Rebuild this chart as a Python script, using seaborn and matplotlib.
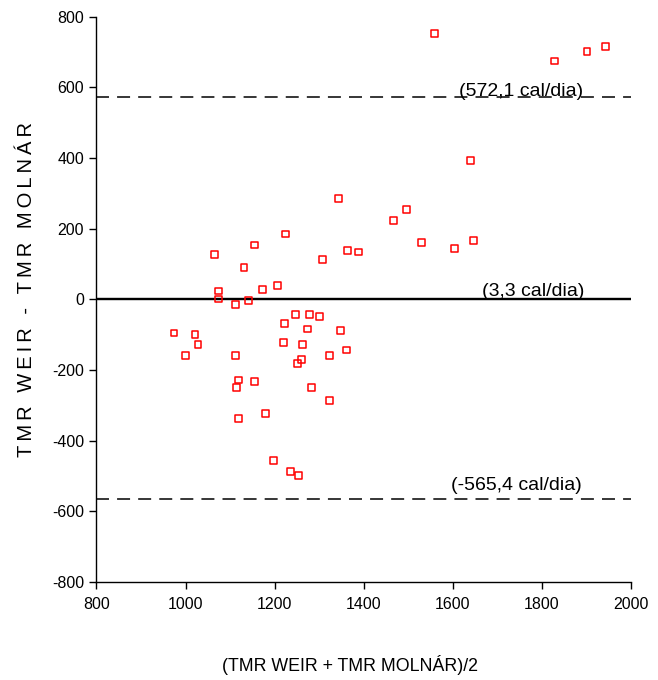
import matplotlib
matplotlib.use("Agg")
import matplotlib.pyplot as plt
from matplotlib import font_manager as fm
import seaborn as sns
import pandas as pd

# Data (Bland-Altman plot)
mean_vals = [1558, 1828, 1901, 1942, 1639, 1496, 1467, 1529, 1603, 1647,
             1343, 1225, 1154, 1065, 1131, 1363, 1389, 1307, 1074, 1172,
             1206, 1074, 1112, 1141, 1247, 1279, 1301, 1223, 1274, 1347,
             974, 1021, 1028, 1219, 1263, 999, 1112, 1324, 1361, 1260,
             1251, 1118, 1115, 1154, 1282, 1324, 1118, 1179, 1198, 1235, 1254]
diff_vals = [753, 675, 701, 717, 393, 255, 223, 160, 143, 166,
             286, 185, 154, 128, 91, 138, 134, 112, 24, 28,
             39, 1, -15, -4, -42, -42, -48, -68, -84, -89,
             -95, -100, -127, -122, -127, -159, -159, -159, -143, -169,
             -181, -228, -250, -233, -250, -286, -336, -323, -455, -487, -498]
bias = 3.3
upper_loa = 572.1
lower_loa = -565.4
line_labels = ["(572,1 cal/dia)", "(3,3 cal/dia)", "(-565,4 cal/dia)"]
x_ticks = [800, 1000, 1200, 1400, 1600, 1800, 2000]
y_ticks = [-800, -600, -400, -200, 0, 200, 400, 600, 800]
x_label = "(TMR WEIR + TMR MOLNÁR)/2"
y_label = "TMR WEIR - TMR MOLNÁR"

sns.set_theme(style="white")
names = {f.name for f in fm.fontManager.ttflist}
has_narrow = "Liberation Sans Narrow" in names
if has_narrow:
    fam = ["Liberation Sans Narrow", "Liberation Sans", "DejaVu Sans"]
    tick_fs, note_fs, xlab_fs = 12.5, 15.5, 16
else:
    fam = ["Liberation Sans", "DejaVu Sans"]
    tick_fs, note_fs, xlab_fs = 11.5, 14, 12.8
plt.rcParams["font.family"] = fam
plt.rcParams["axes.unicode_minus"] = False
for k in ["text.color", "axes.labelcolor", "xtick.color", "ytick.color"]:
    plt.rcParams[k] = "black"

df = pd.DataFrame({"mean": mean_vals, "diff": diff_vals})

fig = plt.figure(figsize=(6.58, 6.80), dpi=100)
ax = fig.add_axes([0.1466, 0.1441, 0.8124, 0.8312])

sns.scatterplot(data=df, x="mean", y="diff", ax=ax, marker="s", s=24,
                facecolors="none", edgecolor="#ff0000", linewidth=1.1,
                legend=False, zorder=3)

ax.axhline(0, color="black", lw=1.0, zorder=2)
ax.axhline(bias, color="black", lw=1.0, zorder=2)
dash = (0, (8.5, 5.3))
ax.axhline(upper_loa, color="black", lw=1.1, ls=dash, zorder=2)
ax.axhline(lower_loa, color="black", lw=1.1, ls=dash, zorder=2)

ax.text(1614, 588, line_labels[0], fontsize=note_fs, va="center", ha="left",
        family=fam, color="black", zorder=4)
ax.text(1665, 22, line_labels[1], fontsize=note_fs, va="center", ha="left",
        family=fam, color="black", zorder=4)
ax.text(1596, -527, line_labels[2], fontsize=note_fs, va="center", ha="left",
        family=fam, color="black", zorder=4)

ax.set_xlim(800, 2000)
ax.set_ylim(-800, 800)
ax.set_xticks(x_ticks)
ax.set_yticks(y_ticks)
ax.tick_params(axis="both", which="both", direction="out", length=5,
               width=1, color="black", labelcolor="black",
               labelsize=tick_fs, bottom=True, left=True)
ax.tick_params(axis="x", pad=6)
ax.tick_params(axis="y", pad=4)
for lab in ax.get_xticklabels() + ax.get_yticklabels():
    lab.set_family(fam)

for side in ["top", "right"]:
    ax.spines[side].set_visible(False)
for side in ["left", "bottom"]:
    ax.spines[side].set_color("black")
    ax.spines[side].set_linewidth(1.0)

spaced = "\u2009".join(list(y_label))
ax.set_ylabel("")
ax.set_xlabel("")
fig.text(0.041, 0.575, spaced, rotation=90, ha="center", va="center",
         fontsize=14.5, color="black", family=["Liberation Sans", "DejaVu Sans"])
fig.text(0.532, 0.022, x_label, ha="center", va="center",
         fontsize=xlab_fs, color="black", family=fam)

fig.savefig("out.png", dpi=100)
